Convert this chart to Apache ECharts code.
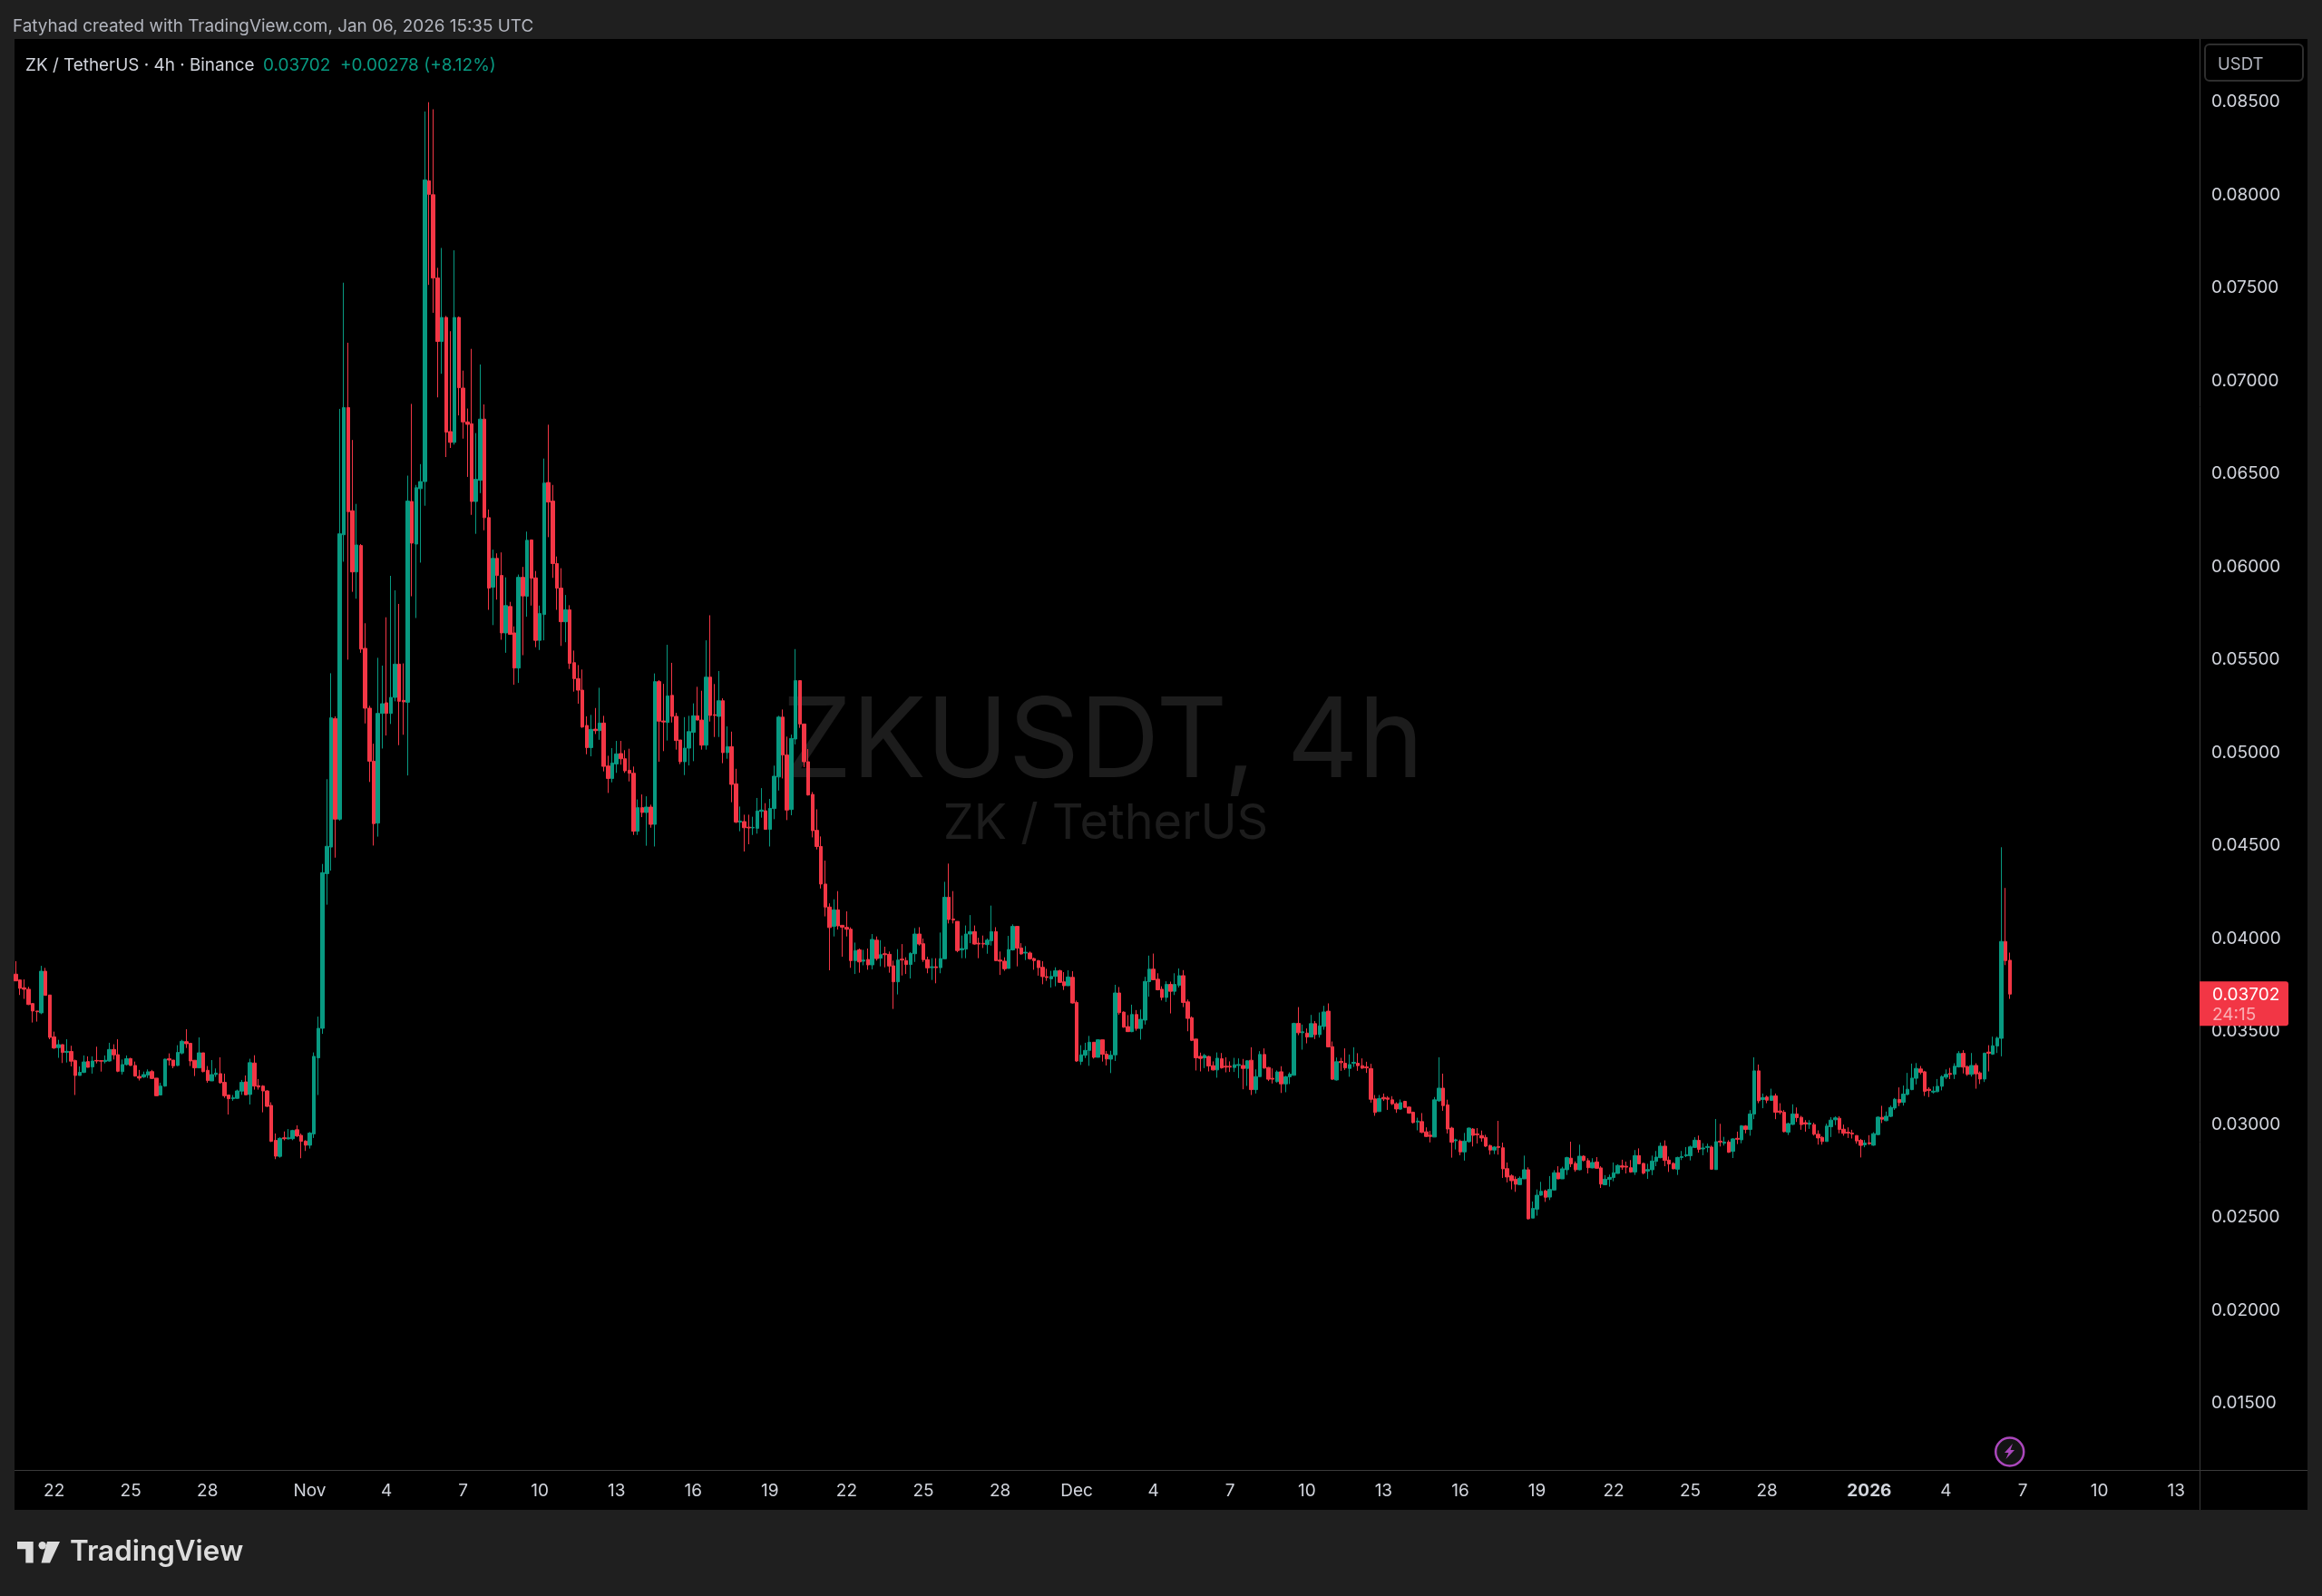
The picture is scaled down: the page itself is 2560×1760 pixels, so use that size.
<!DOCTYPE html>
<html>
<head>
<meta charset="utf-8">
<title>ZKUSDT, 4h</title>
<script src="https://cdn.jsdelivr.net/npm/echarts@6/dist/echarts.min.js"></script>
<style>
  html, body { margin: 0; padding: 0; background: #1f1f1f; }
  #chart { width: 2560px; height: 1760px; }
</style>
</head>
<body>
<div id="chart"></div>
<script>
// prices are in 0.00001 USDT steps, the chart's tick size
const opens = [
  3809,3778,3736,3728,3651,3611,3601,3825,3697,3472,
  3414,3430,3389,3393,3344,3264,3281,3339,3310,3345,
  3344,3339,3342,3404,3376,3285,3323,3355,3318,3259,
  3256,3266,3285,3250,3159,3207,3354,3347,3318,3385,
  3446,3437,3346,3305,3386,3292,3235,3269,3274,3227,
  3159,3139,3141,3180,3230,3162,3331,3209,3207,3181,
  3103,2915,2829,2929,2923,2924,2972,2942,2911,2889,
  2950,3359,3518,4350,4493,5184,4643,6173,6857,6302,
  5973,6115,5562,5240,4955,4622,5212,5269,5212,5298,
  5477,5282,5272,6352,6123,6421,6459,8077,8002,7554,
  7213,7342,6728,6670,7342,6962,6780,6770,6352,6466,
  6795,6265,5891,6046,5954,5645,5787,5645,5456,5944,
  5842,6145,5941,5605,5744,6454,6354,6018,5886,5705,
  5769,5485,5399,5337,5147,5028,5127,5119,5160,4929,
  4862,4940,4996,4968,4906,4890,4578,4705,4679,4708,
  4615,5383,5171,5163,5309,5196,5069,4952,5025,5110,
  5199,5176,5041,5407,5205,5196,5280,5001,5033,4833,
  4627,4630,4600,4596,4594,4685,4688,4588,4700,4870,
  5192,4988,4695,5074,5388,5155,4952,4776,4583,4496,
  4294,4170,4066,4155,4072,4061,4051,3882,3940,3879,
  3888,3859,3992,3895,3919,3916,3854,3768,3890,3882,
  3861,3919,4025,3973,3887,3844,3849,3844,3892,4223,
  4106,4093,3940,3944,4025,4038,3976,3975,3968,3989,
  4038,3885,3879,3840,3940,4066,3950,3923,3923,3893,
  3882,3846,3796,3784,3797,3828,3768,3747,3792,3657,
  3340,3373,3399,3443,3362,3456,3379,3352,3375,3708,
  3605,3527,3500,3592,3517,3562,3769,3836,3782,3728,
  3684,3754,3717,3749,3801,3660,3575,3460,3367,3359,
  3366,3317,3294,3354,3314,3314,3307,3318,3318,3302,
  3346,3188,3258,3377,3307,3249,3231,3284,3219,3257,
  3265,3544,3494,3492,3471,3543,3484,3528,3610,3419,
  3240,3340,3330,3302,3330,3330,3317,3310,3301,3138,
  3070,3146,3143,3133,3112,3083,3125,3094,3066,3014,
  3016,2961,2943,2933,3128,3196,3106,2981,2913,2911,
  2853,2908,2976,2950,2941,2931,2887,2863,2882,2875,
  2763,2724,2706,2677,2708,2757,2497,2545,2620,2643,
  2610,2648,2741,2708,2757,2819,2791,2757,2830,2806,
  2767,2799,2767,2676,2705,2715,2737,2778,2776,2768,
  2745,2833,2791,2750,2757,2802,2822,2884,2809,2791,
  2760,2823,2832,2832,2877,2915,2869,2877,2879,2758,
  2911,2900,2906,2856,2926,2918,2992,2974,3057,3289,
  3135,3148,3130,3154,3073,3066,2959,3001,3057,3039,
  3010,3001,3000,2948,2931,2909,2988,3026,3034,2975,
  2959,2954,2941,2915,2891,2902,2889,2946,3039,3021,
  3044,3089,3135,3120,3162,3188,3249,3299,3284,3190,
  3175,3177,3206,3255,3275,3270,3310,3383,3312,3270,
  3318,3278,3245,3390,3379,3423,3464,3985,3884
];
const closes = [
  3773,3733,3728,3646,3611,3607,3825,3695,3469,3412,
  3430,3388,3394,3341,3264,3281,3337,3308,3342,3342,
  3341,3346,3404,3375,3287,3323,3354,3318,3261,3250,
  3269,3284,3248,3155,3207,3352,3347,3316,3388,3448,
  3435,3342,3305,3386,3285,3237,3269,3277,3225,3155,
  3139,3144,3181,3227,3160,3333,3207,3202,3181,3098,
  2910,2830,2926,2924,2929,2968,2939,2910,2889,2954,
  3367,3518,4355,4497,5188,4643,6178,6857,6297,5973,
  6118,5558,5240,4955,4619,5212,5264,5212,5298,5477,
  5277,5274,6354,6128,6426,6459,8082,8004,7554,7213,
  7342,6725,6670,7342,6964,6780,6767,6352,6471,6795,
  6265,5886,6046,5954,5645,5792,5637,5456,5944,5844,
  6143,5939,5605,5749,6451,6349,6018,5886,5705,5769,
  5481,5399,5337,5139,5028,5126,5119,5160,4927,4862,
  4945,4994,4968,4903,4890,4578,4705,4679,4708,4615,
  5383,5170,5166,5306,5196,5066,4952,5025,5114,5199,
  5176,5041,5407,5201,5201,5280,5001,5033,4830,4627,
  4633,4597,4596,4599,4687,4692,4588,4701,4874,5192,
  4988,4692,5077,5388,5155,4952,4773,4581,4496,4294,
  4170,4060,4155,4069,4062,4051,3882,3936,3875,3885,
  3859,3996,3893,3914,3914,3853,3768,3885,3885,3861,
  3921,4025,3971,3887,3843,3849,3844,3893,4223,4103,
  4101,3936,3947,4025,4038,3971,3971,3971,3992,4038,
  3882,3879,3838,3942,4066,3949,3918,3927,3892,3882,
  3844,3796,3791,3797,3827,3765,3747,3794,3654,3342,
  3375,3399,3443,3362,3456,3378,3353,3373,3708,3602,
  3524,3500,3592,3517,3566,3770,3836,3779,3725,3684,
  3754,3717,3754,3801,3657,3571,3453,3359,3356,3372,
  3315,3294,3357,3305,3309,3309,3322,3323,3302,3343,
  3188,3258,3377,3304,3244,3244,3283,3219,3257,3271,
  3544,3494,3499,3471,3543,3484,3531,3606,3418,3244,
  3338,3333,3305,3323,3335,3317,3304,3305,3136,3065,
  3140,3138,3136,3112,3084,3118,3092,3062,3011,3019,
  2958,2936,2936,3133,3196,3102,2976,2905,2918,2853,
  2911,2981,2942,2945,2928,2884,2863,2879,2877,2762,
  2718,2698,2679,2711,2757,2493,2549,2620,2641,2609,
  2651,2741,2708,2762,2822,2789,2757,2830,2807,2768,
  2796,2765,2680,2706,2716,2741,2780,2771,2771,2745,
  2833,2789,2739,2758,2804,2825,2884,2807,2788,2762,
  2823,2828,2837,2880,2916,2867,2874,2882,2760,2908,
  2906,2906,2851,2923,2921,2993,2974,3057,3289,3128,
  3145,3131,3154,3066,3066,2962,3005,3057,3037,3000,
  3003,3008,2948,2928,2909,2992,3024,3036,2974,2953,
  2954,2949,2912,2888,2901,2897,2951,3040,3029,3045,
  3092,3136,3118,3164,3190,3250,3302,3281,3179,3183,
  3180,3206,3258,3270,3270,3314,3382,3309,3270,3318,
  3273,3245,3384,3384,3424,3465,3985,3882,3702
];
const highs = [
  3879,3781,3781,3741,3654,3611,3854,3843,3697,3500,
  3456,3432,3459,3424,3350,3313,3372,3367,3367,3419,
  3344,3372,3440,3432,3459,3350,3372,3359,3339,3294,
  3285,3297,3294,3250,3225,3354,3383,3347,3427,3456,
  3513,3440,3346,3469,3386,3315,3347,3302,3362,3274,
  3159,3159,3188,3240,3264,3354,3373,3245,3212,3185,
  3120,2952,2931,2963,2976,2972,2996,2952,2916,2960,
  3388,3581,4402,4858,5428,5196,6850,7529,7206,6683,
  6339,6123,5697,5253,5049,5511,5469,5729,5952,5874,
  5801,5481,6491,6877,6441,6553,8450,8500,8462,7609,
  7716,7350,7268,7703,7347,7056,6852,7173,6720,7089,
  6874,6309,6093,6073,6078,5944,5812,5680,5959,6000,
  6190,6148,5978,5792,6583,6765,6441,6056,5993,5849,
  5794,5550,5472,5448,5196,5204,5241,5350,5199,4984,
  5025,5064,5064,5014,5022,4926,4749,4776,4766,4721,
  5427,5391,5371,5581,5484,5215,5069,5192,5199,5266,
  5355,5334,5605,5740,5370,5440,5293,5142,5114,4914,
  4711,4667,4667,4656,4757,4810,4729,4752,4931,5199,
  5233,5087,5098,5558,5388,5155,5020,4789,4696,4550,
  4420,4190,4212,4256,4074,4147,4061,3979,3947,3940,
  3947,4025,4012,3992,3957,3931,3882,3944,3971,3900,
  3927,4057,4062,4001,3903,3895,3895,4033,4306,4404,
  4256,4093,4017,4071,4127,4071,4005,4017,4001,4178,
  4062,3931,3900,4015,4077,4066,3976,3960,3931,3898,
  3885,3879,3838,3827,3846,3833,3820,3830,3825,3667,
  3427,3440,3477,3443,3459,3456,3396,3397,3752,3740,
  3609,3589,3645,3616,3619,3795,3909,3920,3814,3744,
  3771,3769,3814,3840,3831,3673,3582,3460,3387,3380,
  3370,3340,3388,3385,3362,3340,3359,3356,3353,3346,
  3416,3297,3395,3410,3310,3302,3291,3314,3262,3281,
  3548,3632,3538,3517,3590,3557,3603,3639,3652,3447,
  3361,3359,3410,3377,3416,3384,3356,3338,3327,3159,
  3159,3167,3153,3153,3120,3135,3128,3097,3070,3037,
  3062,2985,2966,3148,3362,3274,3134,2988,2924,2919,
  2955,2984,2981,2981,2968,2945,2892,2884,3020,2903,
  2796,2732,2721,2721,2833,2770,2586,2651,2692,2650,
  2723,2755,2776,2773,2827,2908,2802,2892,2835,2819,
  2819,2825,2776,2728,2731,2796,2786,2811,2801,2809,
  2863,2872,2794,2789,2833,2858,2903,2915,2828,2797,
  2827,2858,2879,2887,2932,2941,2900,2898,2887,3030,
  3004,2934,2916,2926,2962,2997,2997,3078,3362,3323,
  3167,3156,3193,3167,3115,3078,3010,3109,3092,3047,
  3024,3024,3010,2969,2938,3005,3040,3044,3045,3000,
  2985,2972,2943,2923,2917,2943,2959,3044,3101,3070,
  3102,3143,3200,3210,3278,3328,3331,3315,3289,3201,
  3205,3245,3265,3297,3305,3330,3395,3400,3318,3385,
  3330,3286,3387,3427,3473,3473,4492,4273,3925
];
const lows = [
  3773,3697,3676,3643,3549,3554,3594,3695,3459,3407,
  3359,3331,3334,3313,3159,3264,3277,3307,3274,3329,
  3285,3329,3339,3350,3282,3269,3318,3316,3258,3237,
  3251,3251,3245,3154,3157,3204,3318,3303,3315,3378,
  3412,3315,3261,3305,3281,3225,3235,3256,3220,3144,
  3054,3128,3139,3160,3159,3108,3188,3188,3066,3095,
  2906,2814,2822,2915,2920,2916,2933,2819,2858,2871,
  2928,3159,3488,4183,4366,4436,4635,6028,5501,5866,
  5829,5538,5158,4843,4501,4549,5023,5093,5155,5277,
  5041,5097,4878,5842,5725,6023,6329,7517,7367,6912,
  7039,6591,6640,6658,6815,6690,6484,6280,6178,6397,
  6197,5769,5687,5824,5608,5538,5637,5366,5376,5525,
  5732,5792,5568,5553,5605,6160,5941,5769,5575,5595,
  5451,5329,5264,5134,4992,4981,5101,5070,4900,4784,
  4841,4892,4936,4892,4846,4558,4558,4654,4500,4597,
  4496,4952,5009,5066,5163,5017,4939,4880,4932,4955,
  5175,5017,5017,5168,5085,5085,4944,4968,4734,4622,
  4578,4469,4508,4558,4565,4651,4586,4496,4643,4797,
  4862,4638,4664,5045,5134,4923,4770,4545,4480,4270,
  4120,3830,4012,4049,3903,4012,3843,3810,3817,3857,
  3833,3835,3882,3851,3846,3817,3622,3700,3802,3810,
  3786,3875,3963,3875,3814,3778,3760,3814,3892,4082,
  4082,3927,3895,3895,3976,3968,3895,3950,3919,3963,
  3879,3805,3827,3840,3936,3851,3914,3885,3887,3833,
  3801,3755,3773,3737,3744,3762,3724,3747,3651,3337,
  3321,3358,3316,3355,3362,3339,3318,3277,3342,3591,
  3521,3498,3497,3505,3457,3538,3688,3779,3722,3668,
  3660,3598,3697,3738,3632,3502,3449,3291,3286,3304,
  3286,3291,3252,3301,3281,3283,3283,3250,3190,3208,
  3159,3167,3258,3301,3234,3221,3226,3170,3174,3218,
  3265,3481,3403,3437,3470,3460,3468,3510,3416,3240,
  3237,3289,3294,3257,3310,3289,3299,3278,3118,3047,
  3070,3127,3079,3105,3063,3079,3091,3058,3006,2969,
  2954,2933,2904,2933,3123,3074,2952,2822,2866,2835,
  2806,2903,2882,2898,2908,2879,2838,2841,2838,2713,
  2689,2651,2638,2676,2708,2489,2497,2510,2617,2584,
  2594,2646,2706,2708,2729,2771,2746,2754,2802,2737,
  2765,2763,2659,2674,2666,2695,2737,2757,2737,2741,
  2729,2788,2732,2708,2728,2776,2819,2776,2745,2760,
  2729,2809,2825,2807,2874,2849,2835,2851,2757,2758,
  2882,2887,2848,2820,2895,2899,2953,2940,3029,3115,
  3088,3115,3128,3029,3055,2958,2944,2998,3014,2972,
  2962,2977,2941,2892,2892,2909,2933,2997,2953,2940,
  2928,2925,2897,2823,2878,2891,2886,2943,3008,3018,
  3040,3079,3099,3102,3157,3185,3216,3270,3154,3148,
  3167,3174,3184,3245,3245,3245,3307,3275,3262,3258,
  3193,3218,3229,3286,3375,3385,3367,3858,3676
];

const priceTicks = [0.015,0.02,0.025,0.03,0.035,0.04,0.045,0.05,0.055,0.06,0.065,0.07,0.075,0.08,0.085];

const tickDates = ['10-22','10-25','10-28','11-01','11-04','11-07','11-10','11-13','11-16','11-19','11-22','11-25','11-28',
  '12-01','12-04','12-07','12-10','12-13','12-16','12-19','12-22','12-25','12-28','01-01','01-04','01-07','01-10','01-13'];
const tickLabels = ['22','25','28','Nov','4','7','10','13','16','19','22','25','28',
  'Dec','4','7','10','13','16','19','22','25','28','2026','4','7','10','13'];

const UP = '#089981';
const DOWN = '#F23645';
const TEXT = '#d1d4dc';
const FONT = 'Inter, "Noto Sans", sans-serif';
const LINE = '#3a3a3a';

// one slot per 4h bar, the axis runs on past the last bar
const barStart = Date.UTC(2025, 9, 20, 12);
const slotCount = 513;
const slots = [];
for (let i = 0; i < slotCount; i++) {
  const d = new Date(barStart + i * 4 * 3600 * 1000);
  const mm = String(d.getUTCMonth() + 1).padStart(2, '0');
  const dd = String(d.getUTCDate()).padStart(2, '0');
  slots.push(mm + '-' + dd + ' ' + d.getUTCHours());
}

const candles = opens.map(function (o, i) {
  return [o / 100000, closes[i] / 100000, lows[i] / 100000, highs[i] / 100000];
});

function labelFor(slot) {
  const parts = slot.split(' ');
  if (parts[1] !== '0') return null;
  const k = tickDates.indexOf(parts[0]);
  return k < 0 ? null : tickLabels[k];
}

var myChart = echarts.init(document.getElementById('chart'));

function txt(x, y, text, size, color, extra) {
  return {
    type: 'text', x: x, y: y, z: 5,
    style: Object.assign({ text: text, fontFamily: FONT, fontSize: size, fill: color, verticalAlign: 'middle' }, extra || {})
  };
}

myChart.setOption({
  backgroundColor: '#1f1f1f',
  animation: false,
  grid: { left: 15, right: 135, top: 43, height: 1578 },
  xAxis: {
    type: 'category',
    data: slots,
    boundaryGap: true,
    axisLine: { show: false },
    axisTick: { show: false },
    splitLine: { show: false },
    axisLabel: {
      interval: function (i, v) { return labelFor(v) !== null; },
      formatter: function (v) {
        const l = labelFor(v);
        return l === '2026' ? '{b|2026}' : l;
      },
      color: TEXT,
      fontFamily: FONT,
      fontSize: 19,
      margin: 14,
      hideOverlap: false,
      rich: { b: { color: TEXT, fontFamily: FONT, fontSize: 19, fontWeight: 700 } }
    }
  },
  yAxis: {
    type: 'value',
    position: 'right',
    min: 0.01142,
    max: 0.0884,
    axisLine: { show: false },
    axisTick: { show: false },
    splitLine: { show: false },
    axisLabel: {
      customValues: priceTicks,
      formatter: function (v) { return v.toFixed(5); },
      color: TEXT,
      fontFamily: FONT,
      fontSize: 19,
      margin: 13,
      padding: [3, 0, 0, 0]
    }
  },
  series: [{
    type: 'candlestick',
    data: candles,
    barWidth: 4,
    itemStyle: {
      color: UP,
      color0: DOWN,
      borderColor: UP,
      borderColor0: DOWN,
      borderWidth: 1
    }
  }],
  graphic: {
    elements: [
      // panel and frame
      { type: 'rect', z: -10, shape: { x: 16, y: 43, width: 2528, height: 1622 }, style: { fill: '#000' } },
      { type: 'line', z: 1, shape: { x1: 2425.5, y1: 43, x2: 2425.5, y2: 1665 }, style: { stroke: LINE, lineWidth: 1 } },
      { type: 'line', z: 1, shape: { x1: 16, y1: 1621.5, x2: 2544, y2: 1621.5 }, style: { stroke: LINE, lineWidth: 1 } },
      // watermark
      { type: 'text', z: -5, x: 1216, y: 820, style: { text: 'ZKUSDT, 4h', fontFamily: FONT, fontSize: 122, fill: '#1c1c1c', align: 'center', verticalAlign: 'middle' } },
      { type: 'text', z: -5, x: 1219, y: 909, style: { text: 'ZK / TetherUS', fontFamily: FONT, fontSize: 54, fill: '#1c1c1c', align: 'center', verticalAlign: 'middle' } },
      // header
      txt(14, 29.5, 'Fatyhad created with TradingView.com, Jan 06, 2026 15:35 UTC', 18.9, '#b2b5be'),
      txt(28, 72.5, 'ZK / TetherUS · 4h · Binance', 18.9, TEXT),
      txt(290, 72.5, '0.03702', 19, UP),
      txt(375, 72.5, '+0.00278 (+8.12%)', 19, UP),
      // unit box
      { type: 'rect', z: 4, shape: { x: 2431, y: 49, width: 108, height: 40, r: 5 }, style: { fill: '#000', stroke: '#2e2e2e', lineWidth: 2 } },
      txt(2445, 71, 'USDT', 18.5, '#b2b5be'),
      // flash mark
      { type: 'circle', z: 4, shape: { cx: 2215.7, cy: 1601, r: 15.5 }, style: { fill: '#141414', stroke: '#ab47bc', lineWidth: 2.5 } },
      { type: 'polygon', z: 5, shape: { points: [[2219, 1592], [2210, 1602], [2214.5, 1602], [2211.5, 1609], [2221, 1599], [2216.5, 1599]] }, style: { fill: '#ab47bc' } },
      // logo
      { type: 'polygon', z: 5, shape: { points: [[19, 1700], [36.7, 1700], [36.7, 1723.5], [28.3, 1723.5], [28.3, 1708.3], [19, 1708.3]] }, style: { fill: '#dcdcdc' } },
      { type: 'circle', z: 5, shape: { cx: 46.7, cy: 1704.3, r: 4.2 }, style: { fill: '#dcdcdc' } },
      { type: 'polygon', z: 5, shape: { points: [[52, 1700], [66, 1700], [55, 1723.5], [45.5, 1723.5]] }, style: { fill: '#dcdcdc' } },
      txt(77, 1712, 'TradingView', 31.4, '#dcdcdc', { fontWeight: 600 })
    ]
  }
});

// last price tag sits on the close through the axis scale
const lastClose = closes[closes.length - 1] / 100000;
const tagY = myChart.convertToPixel({ yAxisIndex: 0 }, lastClose);
const tagPrice = txt(2439, tagY + 1, lastClose.toFixed(5), 19, '#fff');
const tagTime = txt(2439, tagY + 23, '24:15', 19, 'rgba(255,255,255,0.6)');
tagPrice.id = 'tagPrice';
tagPrice.z = 7;
tagTime.id = 'tagTime';
tagTime.z = 7;
myChart.setOption({
  graphic: {
    elements: [
      { id: 'tagBox', type: 'rect', z: 6, shape: { x: 2425, y: tagY - 14, width: 98, height: 49, r: [0, 3, 3, 0] }, style: { fill: DOWN } },
      tagPrice,
      tagTime
    ]
  }
});
</script>
</body>
</html>
